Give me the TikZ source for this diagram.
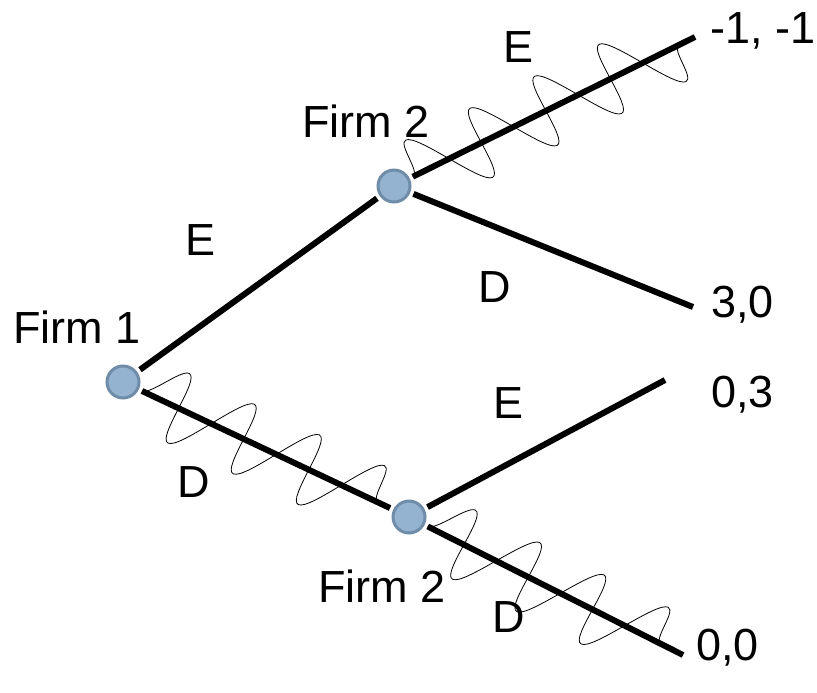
\documentclass[tikz,border=0pt]{standalone}
\usepackage{fontspec}
\setmainfont{Liberation Sans}
\usetikzlibrary{decorations.pathmorphing}
\definecolor{firmfill}{HTML}{94B3D0}
\definecolor{firmedge}{HTML}{6F8CA8}

\begin{document}
\begin{tikzpicture}[
    x=0.5pt, y=-0.5pt,
    firm/.style={circle, draw=firmedge, fill=firmfill, line width=1.5pt, minimum size=16pt, inner sep=0pt, outer sep=2.5pt},
    branch/.style={line width=3pt},
    squiggle/.style={thin, decorate, decoration={snake, amplitude=18pt, segment length=36pt, transform={xslant=#1}}},
    lbl/.style={font=\fontsize{22.5}{27}\selectfont, inner sep=0pt, anchor=base},
    pay/.style={lbl, anchor=base west}
]
    \useasboundingbox (0,0) rectangle (817,692);

    % decision nodes
    \node[firm] (f1) at (123,382) {};
    \node[firm] (f2u) at (394,186) {};
    \node[firm] (f2l) at (409,517) {};

    % ends of the branches
    \coordinate (uu) at (695,37);
    \coordinate (ud) at (693,307);
    \coordinate (du) at (665,380);
    \coordinate (dd) at (683,655);

    \draw[branch] (f1) -- (f2u);
    \draw[branch] (f1) -- (f2l);
    \draw[branch] (f2u) -- (uu);
    \draw[branch] (f2u) -- (ud);
    \draw[branch] (f2l) -- (du);
    \draw[branch] (f2l) -- (dd);

    % equilibrium path
    \draw[squiggle=-0.35] (f2u) -- (uu);
    \draw[squiggle=0.35] (f1) -- (f2l);
    \draw[squiggle=0.35] (f2l) -- (dd);

    % players
    \node[lbl] (p1) at (77,343) {Firm 1};
    \node[lbl] (p2u) at (366,137) {Firm 2};
    \node[lbl] (p2l) at (382,602) {Firm 2};

    % actions
    \node[lbl] (a1) at (201,255) {E};
    \node[lbl] (a2) at (194,497) {D};
    \node[lbl] (a3) at (518,62) {E};
    \node[lbl] (a4) at (495,302) {D};
    \node[lbl] (a5) at (508,418) {E};
    \node[lbl] (a6) at (509,632) {D};

    % payoffs
    \node[pay] (v1) at (710,43) {-1, -1};
    \node[pay] (v2) at (711,317) {3,0};
    \node[pay] (v3) at (711,407) {0,3};
    \node[pay] (v4) at (696,660) {0,0};
\end{tikzpicture}
\end{document}
